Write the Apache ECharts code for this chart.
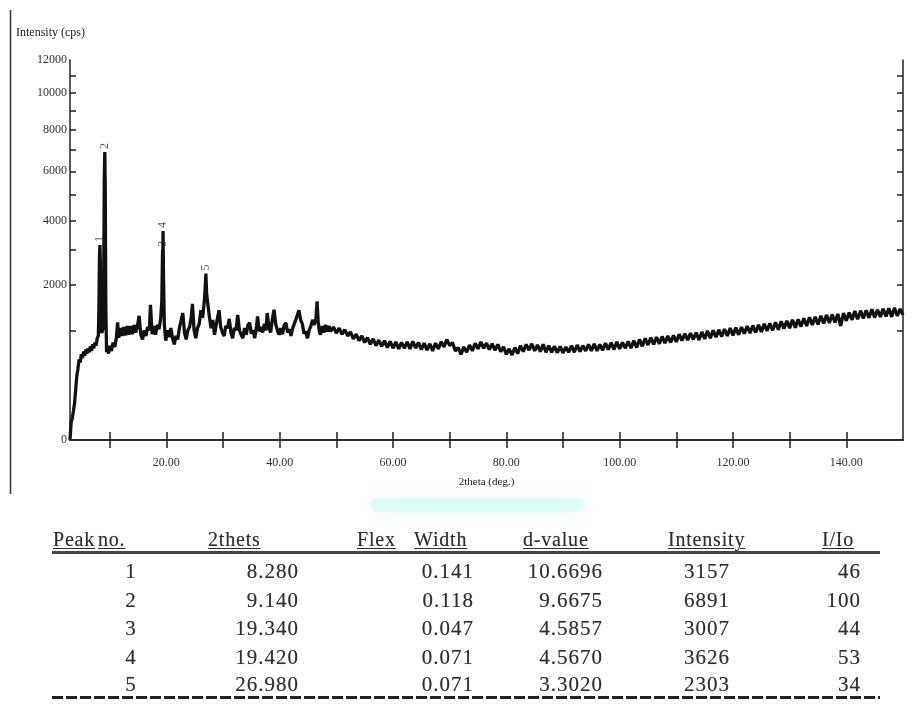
<!DOCTYPE html>
<html>
<head>
<meta charset="utf-8">
<title>XRD pattern</title>
<script src="https://cdn.jsdelivr.net/npm/echarts@6/dist/echarts.min.js"></script>
<style>
  html, body { margin: 0; padding: 0; background: #fff; }
  #chart { position: absolute; left: 0; top: 0; width: 917px; height: 711px; }
  #table {
    position: absolute; left: 0; top: 0; width: 917px; height: 711px;
    font-family: "Liberation Serif", "DejaVu Serif", serif;
    font-size: 20px; letter-spacing: 0.8px; color: #2e2e2e;
    text-shadow: 0 0 1px rgba(0, 0, 0, 0.35);
  }
  .cell { position: absolute; white-space: nowrap; line-height: 24px; }
  .num { font-size: 21px; letter-spacing: 1px; }
  .head { text-decoration: underline; text-decoration-thickness: 1px; text-underline-offset: 2px; }
  .rule { position: absolute; left: 52px; width: 828px; height: 3px; }
</style>
</head>
<body>
<div id="chart"></div>
<div id="table"></div>
<script>
// scan: [2theta, counts]
const scanLow = [
  [3.0,0],[3.2,25],[3.4,40],[3.6,70],[3.8,110],[4.0,210],[4.2,340],[4.4,420],[4.6,540],[4.8,500],
  [5.0,610],[5.2,560],[5.4,650],[5.6,590],[5.8,680],[6.0,620],[6.2,700],[6.4,640],[6.6,730],[6.8,660],
  [7.0,760],[7.2,700],[7.4,790],[7.6,740],[7.8,860],[8.0,900],[8.1,1400],[8.2,2800],[8.28,3157],[8.36,2600],
  [8.45,1100],[8.6,950],[8.8,1020],[8.95,2200],[9.05,5600],[9.14,6891],[9.22,5200],[9.32,1500],[9.45,640],[9.6,700],
  [9.8,620],[10.0,740],[10.3,660],[10.6,790],[10.9,720],[11.2,880],[11.4,1150],[11.6,870],[11.9,1040],[12.2,900],
  [12.5,1060],[12.8,910],[13.1,1080],[13.4,920],[13.7,1080],[14.0,930],[14.3,1100],[14.6,960],[14.9,1080],[15.2,1280],
  [15.5,920],[15.8,840],[16.1,1000],[16.4,900],[16.7,1060],[17.0,1000],[17.2,1520],[17.5,930],[17.8,1080],[18.1,920],
  [18.4,1100],[18.7,1020],[19.0,1220],[19.2,1600],[19.34,3007],[19.38,2600],[19.42,3626],[19.5,2200],[19.65,1100],[19.9,820],
  [20.2,1000],[20.5,880],[20.8,1040],[21.1,860],[21.4,760],[21.7,900],[22.0,840],[22.3,1040],[22.6,1020],[22.9,1340],
  [23.2,960],[23.5,840],[23.8,1000],[24.1,1060],[24.4,1250],[24.6,1540],[24.9,1000],[25.2,860],[25.5,1040],[25.8,1120],
  [26.1,1400],[26.4,1240],[26.7,1600],[26.85,1900],[26.98,2303],[27.1,1800],[27.3,1560],[27.6,1260],[27.9,1040],[28.2,1200],
  [28.5,920],[28.8,1100],[29.0,1220],[29.3,1400],[29.6,1060],[29.9,960],[30.2,900],[30.5,1080],[30.8,1040],[31.1,1220],
  [31.4,960],[31.7,860],[32.0,1040],[32.3,1000],[32.6,1300],[32.9,1000],[33.2,920],[33.5,860],[33.8,1040],[34.1,920],
  [34.4,1100],[34.7,1140],[35.0,940],[35.3,1000],[35.6,860],[35.9,1060],[36.1,1270],[36.4,980],[36.7,1060],[37.0,960],
  [37.3,1120],[37.6,1000],[37.8,1340],[38.1,1060],[38.4,960],[38.7,1200],[39.0,1410],[39.3,1120],[39.6,1000],[39.9,920],
  [40.2,1040],[40.5,930],[40.8,1100],[41.1,1140],[41.4,960],[41.7,1020],[42.0,900],[42.3,1040],[42.6,1060],[42.9,1220],
  [43.2,1260],[43.4,1400],[43.7,1200],[44.0,1120],[44.3,940],[44.6,980],[44.9,860],[45.2,1000],[45.5,1080],[45.8,1200],
  [46.1,1100],[46.4,1220],[46.6,1600],[46.8,1160],[47.0,980],[47.2,920],[47.5,1080],[47.8,960],[48.1,1100],[48.4,980],
  [48.7,1080],[49.0,980]
];
const scanHigh = [
  [49.5,1060],[50,950],[50.5,1040],[51,930],[51.5,1010],[52,900],[52.5,970],[53,850],[53.5,930],[54,820],
  [54.5,900],[55,790],[55.5,870],[56,760],[56.5,850],[57,740],[57.5,830],[58,730],[58.5,820],[59,710],
  [59.5,810],[60,700],[60.5,800],[61,690],[61.5,790],[62,700],[62.5,800],[63,690],[63.5,810],[64,700],
  [64.5,790],[65,680],[65.5,780],[66,670],[66.5,770],[67,660],[67.5,780],[68,690],[68.5,800],[69,720],
  [69.5,840],[70,740],[70.5,790],[71,660],[71.5,710],[72,610],[72.5,720],[73,640],[73.5,750],[74,660],
  [74.5,780],[75,690],[75.5,800],[76,700],[76.5,780],[77,680],[77.5,770],[78,670],[78.5,760],[79,650],
  [79.5,720],[80,610],[80.5,690],[81,600],[81.5,710],[82,620],[82.5,740],[83,650],[83.5,760],[84,670],
  [84.5,770],[85,660],[85.5,750],[86,650],[86.5,760],[87,640],[87.5,740],[88,640],[88.5,730],[89,630],
  [89.5,730],[90,630],[90.5,720],[91,640],[91.5,740],[92,640],[92.5,750],[93,650],[93.5,740],[94,660],
  [94.5,760],[95,660],[95.5,770],[96,660],[96.5,760],[97,670],[97.5,780],[98,680],[98.5,790],[99,680],
  [99.5,800],[100,690],[100.5,790],[101,700],[101.5,810],[102,700],[102.5,820],[103,710],[103.5,840],[104,730],
  [104.5,860],[105,750],[105.5,870],[106,760],[106.5,880],[107,770],[107.5,890],[108,780],[108.5,900],[109,790],
  [109.5,910],[110,800],[110.5,930],[111,820],[111.5,940],[112,830],[112.5,950],[113,840],[113.5,960],[114,830],
  [114.5,970],[115,850],[115.5,990],[116,860],[116.5,1000],[117,880],[117.5,1010],[118,890],[118.5,1020],[119,900],
  [119.5,1040],[120,910],[120.5,1050],[121,920],[121.5,1060],[122,940],[122.5,1080],[123,950],[123.5,1090],[124,960],
  [124.5,1100],[125,970],[125.5,1120],[126,990],[126.5,1130],[127,1000],[127.5,1150],[128,1010],[128.5,1170],[129,1030],
  [129.5,1180],[130,1040],[130.5,1200],[131,1050],[131.5,1210],[132,1070],[132.5,1230],[133,1080],[133.5,1250],[134,1100],
  [134.5,1260],[135,1110],[135.5,1280],[136,1130],[136.5,1300],[137,1140],[137.5,1310],[138,1150],[138.5,1320],[139,1080],
  [139.5,1340],[140,1180],[140.5,1350],[141,1200],[141.5,1380],[142,1210],[142.5,1390],[143,1230],[143.5,1400],[144,1240],
  [144.5,1420],[145,1250],[145.5,1410],[146,1260],[146.5,1430],[147,1270],[147.5,1440],[148,1260],[148.5,1450],[149,1280],
  [149.5,1430],[150,1300]
];

// peak table
const peakNo = [1, 2, 3, 4, 5];
const peakAngle = ['8.280', '9.140', '19.340', '19.420', '26.980'];
const flexWidth = ['0.141', '0.118', '0.047', '0.071', '0.071'];
const dValue = ['10.6696', '9.6675', '4.5857', '4.5670', '3.3020'];
const peakCounts = [3157, 6891, 3007, 3626, 2303];
const relInt = [46, 100, 44, 53, 34];

// axis ticks
const xLabels = [20, 40, 60, 80, 100, 120, 140];
const xTicks = [10, 20, 30, 40, 50, 60, 70, 80, 90, 100, 110, 120, 130, 140];
const yLabels = [0, 2000, 4000, 6000, 8000, 10000, 12000];
const yTicks = [1000, 2000, 3000, 4000, 5000, 6000, 7000, 8000, 9000, 10000, 11000];

// the y axis of the original is a square-root scale
const sq = v => Math.sqrt(v);
const serif = '"Liberation Serif", "DejaVu Serif", serif';
const ink = '#222';

const chart = echarts.init(document.getElementById('chart'));
const axisLine = { lineStyle: { color: ink, width: 1.5 } };

const option = {
  animation: false,
  title: {
    text: 'Intensity (cps)', left: 11, top: 22,
    textStyle: { fontFamily: serif, fontSize: 12, fontWeight: 'normal', color: ink }
  },
  grid: { left: 70, right: 14, top: 60, bottom: 271 },
  xAxis: [
    {
      type: 'value', min: 3, max: 150, position: 'bottom',
      name: '2theta (deg.)', nameLocation: 'middle', nameGap: 37,
      nameTextStyle: { fontFamily: serif, fontSize: 11, color: ink },
      axisLine: axisLine,
      axisTick: { inside: true, length: 8, customValues: xTicks, lineStyle: { color: ink, width: 1.5 } },
      axisLabel: { customValues: xLabels, formatter: v => v.toFixed(2), margin: 17, fontFamily: serif, fontSize: 12, color: '#333' },
      splitLine: { show: false }
    },
    {
      type: 'value', min: 3, max: 150, position: 'top',
      axisLine: axisLine,
      axisTick: { inside: true, length: 8, customValues: xTicks, lineStyle: { color: ink, width: 1.5 } },
      axisLabel: { show: false },
      splitLine: { show: false }
    }
  ],
  yAxis: [
    {
      type: 'value', min: 0, max: sq(12000), position: 'left',
      axisLine: axisLine,
      axisTick: { inside: true, length: 6, customValues: yTicks.map(sq), lineStyle: { color: ink, width: 1.5 } },
      axisLabel: { customValues: yLabels.map(sq), formatter: v => Math.round(v * v), margin: 3, fontFamily: serif, fontSize: 12, color: '#333' },
      splitLine: { show: false }
    },
    {
      type: 'value', min: 0, max: sq(12000), position: 'right',
      axisLine: axisLine,
      axisTick: { inside: true, length: 6, customValues: yTicks.map(sq), lineStyle: { color: ink, width: 1.5 } },
      axisLabel: { show: false },
      splitLine: { show: false }
    }
  ],
  series: [
    {
      type: 'line',
      data: scanLow.concat(scanHigh).map(p => [p[0], sq(p[1])]),
      showSymbol: false,
      lineStyle: { color: '#111', width: 3.3 },
      z: 3
    },
    {
      type: 'scatter',
      data: peakAngle.map((a, i) => [Number(a), sq(peakCounts[i])]),
      symbolSize: 0,
      label: {
        show: true, position: 'top', distance: 3, rotate: 90,
        align: 'left', verticalAlign: 'middle',
        formatter: p => String(peakNo[p.dataIndex]),
        fontFamily: serif, fontSize: 12, color: '#333'
      },
      z: 4
    }
  ],
  graphic: [
    { type: 'line', shape: { x1: 10.5, y1: 10, x2: 10.5, y2: 494 }, style: { stroke: '#333', lineWidth: 1.5 } },
    { type: 'rect', shape: { x: 370, y: 498, width: 215, height: 14, r: 7 },
      style: { fill: 'rgba(195, 250, 240, 0.45)', shadowBlur: 14, shadowColor: 'rgba(195, 250, 240, 0.9)' } }
  ]
};
chart.setOption(option);

// table under the chart
const tableEl = document.getElementById('table');
function cell(text, x, y, align, cls) {
  const d = document.createElement('div');
  d.className = 'cell' + (cls ? ' ' + cls : '');
  d.textContent = text;
  d.style.top = (y - 12) + 'px';
  if (align === 'right') { d.style.right = (917 - x) + 'px'; }
  else if (align === 'center') { d.style.left = (x - 20) + 'px'; d.style.width = '40px'; d.style.textAlign = 'center'; }
  else { d.style.left = x + 'px'; }
  tableEl.appendChild(d);
}
[['Peak', 53], ['no.', 98], ['2thets', 208], ['Flex', 357], ['Width', 414],
 ['d-value', 523], ['Intensity', 668], ['I/Io', 822]].forEach(h => cell(h[0], h[1], 539, 'left', 'head'));

const rowY = [571, 600, 628, 657, 684];
peakNo.forEach((n, i) => {
  const y = rowY[i];
  cell(String(n), 131, y, 'center', 'num');
  cell(peakAngle[i], 299, y, 'right', 'num');
  cell(flexWidth[i], 474, y, 'right', 'num');
  cell(dValue[i], 603, y, 'right', 'num');
  cell(String(peakCounts[i]), 730, y, 'right', 'num');
  cell(String(relInt[i]), 861, y, 'right', 'num');
});

const headRule = document.createElement('div');
headRule.className = 'rule';
headRule.style.top = '551px';
headRule.style.background = '#444';
tableEl.appendChild(headRule);

const footRule = document.createElement('div');
footRule.className = 'rule';
footRule.style.top = '696px';
footRule.style.background = 'repeating-linear-gradient(90deg, #222 0 11px, transparent 11px 14px)';
tableEl.appendChild(footRule);
</script>
</body>
</html>
